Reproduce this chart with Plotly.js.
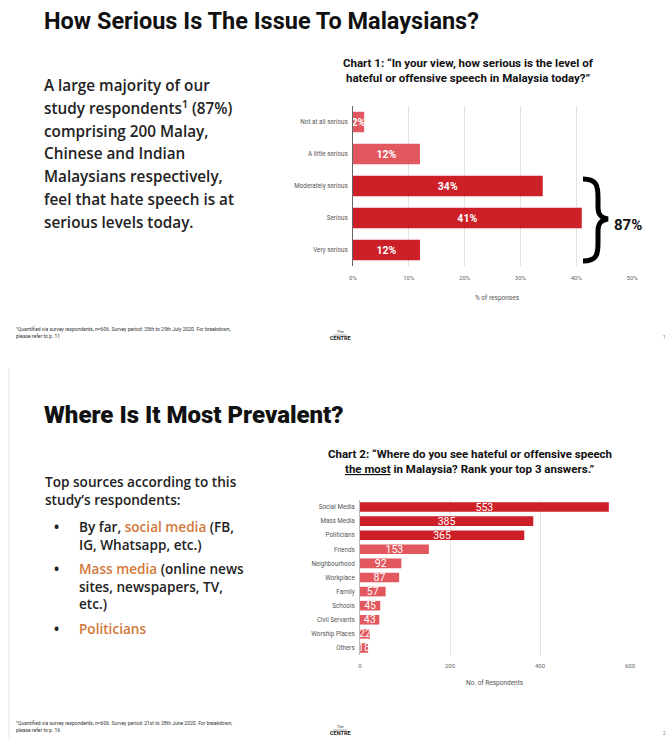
<!DOCTYPE html>
<html><head><meta charset="utf-8">
<script src="https://cdn.plot.ly/plotly-3.0.1.min.js"></script>
<style>html,body{margin:0;padding:0;background:#fff;}#chart{width:667px;height:738px;}</style>
</head><body><div id="chart"></div>
<script>
// ---------- Chart 1 data ----------
const seriousLevels = ["Not at all serious", "A little serious", "Moderately serious", "Serious", "Very serious"];
const seriousPct = [2, 12, 34, 41, 12];
const pctTicks = [0, 10, 20, 30, 40, 50];
const pctTickText = ["0%", "10%", "20%", "30%", "40%", "50%"];
const seriousTotalLabel = "87%";

// ---------- Chart 2 data ----------
const sources = ["Social Media", "Mass Media", "Politicians", "Friends", "Neighbourhood", "Workplace", "Family", "Schools", "Civil Servants", "Worship Places", "Others"];
const sourceCounts = [553, 385, 365, 153, 92, 87, 57, 45, 43, 22, 18];
const countTicks = [0, 200, 400, 600];

// ---------- Texts ----------
const title1 = "How Serious Is The Issue To Malaysians?";
const title2 = "Where Is It Most Prevalent?";
const chart1Title = ["Chart 1: \u201CIn your view, how serious is the level of", "hateful or offensive speech in Malaysia today?\u201D"];
const chart2Title = ["Chart 2: \u201CWhere do you see hateful or offensive speech", "<u>the most</u> in Malaysia? Rank your top 3 answers.\u201D"];
const body1 = ["A large majority of our", "study respondents<sup>1</sup> (87%)", "comprising 200 Malay,", "Chinese and Indian", "Malaysians respectively,", "feel that hate speech is at", "serious levels today."];
const ORANGE = "#d2783a";
const body2Intro = ["Top sources according to this", "study\u2019s respondents:"];
const body2Bullets = [
  ["By far, <span style='color:" + ORANGE + "'>social media</span> (FB,", "IG, Whatsapp, etc.)"],
  ["<span style='color:" + ORANGE + "'>Mass media</span> (online news", "sites, newspapers, TV,", "etc.)"],
  ["<span style='color:" + ORANGE + "'>Politicians</span>"]
];
const foot1 = ["\u00B9Quantified via survey respondents, n=606. Survey period: 25th to 29th July 2020. For breakdown,", "please refer to p. 11"];
const foot2 = ["\u00B9Quantified via survey respondents, n=606. Survey period: 21st to 28th June 2020. For breakdown,", "please refer to p. 16"];

// ---------- Styling ----------
const W = 667, H = 738;
const DARK = "#cc1f28", LIGHT = "#e2585e";
const px = x => x / W, py = y => 1 - y / H;

const colors1 = seriousLevels.map((_, i) => i >= 2 ? DARK : LIGHT);
const colors2 = sources.map((_, i) => i < 3 ? DARK : LIGHT);

const traces = [
  {
    type: "bar", orientation: "h", x: seriousPct, y: seriousLevels, xaxis: "x", yaxis: "y",
    width: 0.64, marker: {color: colors1},
    text: seriousPct.map(v => v + "%"), textposition: "inside", insidetextanchor: "middle",
    textangle: 0, constraintext: "none",
    textfont: {color: "#ffffff", size: 10.5, family: "Roboto", weight: "bold"},
    hoverinfo: "skip", cliponaxis: false
  },
  {
    type: "bar", orientation: "h", x: sourceCounts, y: sources, xaxis: "x2", yaxis: "y2",
    width: 0.68, marker: {color: colors2},
    text: sourceCounts.map(String), textposition: "inside", insidetextanchor: "middle",
    textangle: 0, constraintext: "none",
    textfont: {color: "#ffffff", size: 10.5, family: "Roboto"},
    hoverinfo: "skip", cliponaxis: false
  }
];

function A(x, y, text, size, o) {
  o = o || {};
  return {
    xref: "paper", yref: "paper", x: px(x), y: py(y), text: text, showarrow: false,
    xanchor: o.xanchor || "left", yanchor: o.yanchor || "middle", align: "left",
    font: {family: o.family || "Roboto", size: size, color: o.color || "#111", weight: o.weight || "normal"}
  };
}

const ann = [];
ann.push(A(42, 21, title1, 23.5, {weight: "bold"}));
ann.push(A(42, 415, title2, 24, {weight: 900}));
chart1Title.forEach((t, i) => ann.push(A(468, 63 + i * 15, t, 11.5, {xanchor: "center", weight: "bold"})));
chart2Title.forEach((t, i) => ann.push(A(470, 454 + i * 14.5, t, 11.5, {xanchor: "center", weight: "bold"})));
body1.forEach((t, i) => ann.push(A(42, 85 + i * 22.8, t, 15.3, {family: "Open Sans", weight: 600, color: "#222"})));
ann.push(A(43, 470, body2Intro.join("<br>"), 13.6, {family: "Open Sans", weight: 600, color: "#222", yanchor: "top"}));
const bulletTop = [515, 557, 617];
body2Bullets.forEach((lines, b) => {
  ann.push(A(52, bulletTop[b], "\u2022", 13.6, {family: "Open Sans", weight: 700, color: "#222", yanchor: "top"}));
  ann.push(A(77, bulletTop[b], lines.join("<br>"), 13.6, {family: "Open Sans", weight: 600, color: "#222", yanchor: "top"}));
});
ann.push(A(497, 298, "% of responses", 6.5, {xanchor: "center", color: "#555"}));
ann.push(A(495, 683, "No. of Respondents", 6.5, {xanchor: "center", color: "#555"}));
ann.push(A(612, 225, seriousTotalLabel, 15, {weight: "bold"}));
foot1.forEach((t, i) => ann.push(A(14, 329 + i * 7, t, 5, {color: "#333"})));
foot2.forEach((t, i) => ann.push(A(14, 723 + i * 7, t, 5, {color: "#333"})));
[[331, 338], [726, 733]].forEach(([a, b]) => {
  ann.push(A(340, a, "The", 4, {xanchor: "center", color: "#333"}));
  ann.push(A(340, b, "CENTRE", 5.5, {xanchor: "center", color: "#222", weight: "bold"}));
});
ann.push(A(664, 337, "1", 4.5, {xanchor: "center", color: "#777"}));
ann.push(A(664, 733, "2", 4.5, {xanchor: "center", color: "#777"}));

// brace path (pixels -> paper)
const bracePts = "M 583 179 C 597 179 598 186 598 198 L 598 207 C 598 215 601 218 608 219 C 601 220 598 223 598 231 L 598 243 C 598 254 597 261 583 261";
let out = [], isX = true;
bracePts.split(" ").forEach(t => {
  if (/^[A-Z]$/.test(t)) { out.push(t); isX = true; }
  else { const v = parseFloat(t); out.push(isX ? px(v).toFixed(5) : py(v).toFixed(5)); isX = !isX; }
});
const bracePath = out.join(" ");

const shapes = [
  {type: "path", xref: "paper", yref: "paper", path: bracePath, line: {color: "#000", width: 5}},
  {type: "line", xref: "paper", yref: "paper", x0: px(9), x1: px(9), y0: py(368), y1: py(738), line: {color: "#e6e6e6", width: 1}},
  {type: "line", xref: "paper", yref: "paper", x0: px(333), x1: px(347), y0: py(335), y1: py(335), line: {color: "#555", width: 0.5}},
  {type: "line", xref: "paper", yref: "paper", x0: px(333), x1: px(347), y0: py(730), y1: py(730), line: {color: "#555", width: 0.5}}
];

const layout = {
  width: W, height: H, margin: {l: 0, r: 0, t: 0, b: 0},
  paper_bgcolor: "#fff", plot_bgcolor: "rgba(0,0,0,0)", showlegend: false,
  font: {family: "Roboto, sans-serif"},
  xaxis: {domain: [px(353), px(632)], range: [0, 50], anchor: "y", tickmode: "array", tickvals: pctTicks, ticktext: pctTickText,
    showgrid: true, gridcolor: "#e2e2e2", gridwidth: 1, zeroline: false, showline: false, ticks: "",
    tickfont: {size: 6, color: "#666"}, ticklabelstandoff: 7, fixedrange: true},
  yaxis: {domain: [py(266), py(106)], anchor: "x", type: "category", autorange: "reversed",
    showline: true, linecolor: "#666", linewidth: 1, ticks: "", showgrid: false, zeroline: false,
    tickfont: {size: 6.3, color: "#555"}, ticklabelstandoff: 3, fixedrange: true},
  xaxis2: {domain: [px(360), px(630)], range: [0, 600], anchor: "y2", tickmode: "array", tickvals: countTicks,
    showgrid: true, gridcolor: "#e2e2e2", gridwidth: 1, zeroline: false, showline: false, ticks: "",
    tickfont: {size: 6, color: "#666"}, ticklabelstandoff: 6, fixedrange: true},
  yaxis2: {domain: [py(655), py(500)], anchor: "x2", type: "category", autorange: "reversed",
    showline: true, linecolor: "#bbb", linewidth: 1, ticks: "", showgrid: false, zeroline: false,
    tickfont: {size: 6.3, color: "#555"}, ticklabelstandoff: 3, fixedrange: true},
  annotations: ann, shapes: shapes
};

Plotly.newPlot("chart", traces, layout, {displayModeBar: false, staticPlot: true});
</script></body></html>
